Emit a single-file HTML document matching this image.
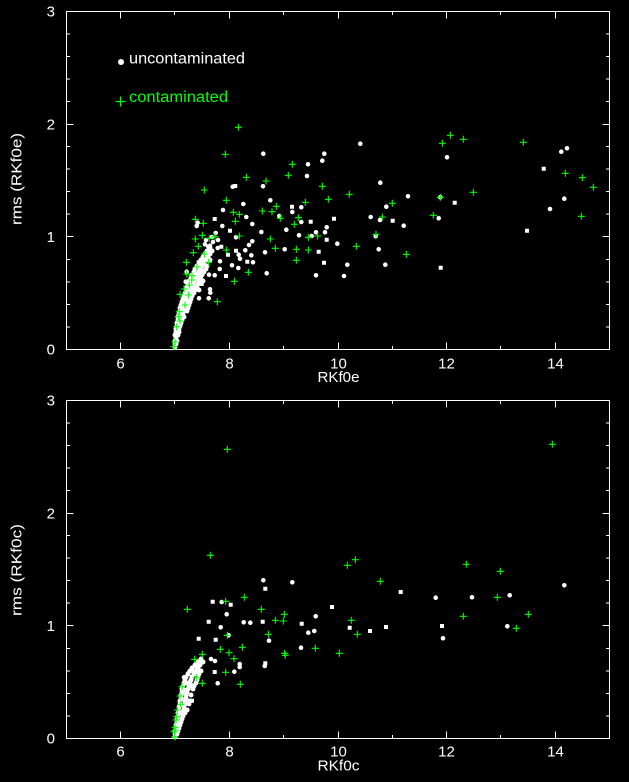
<!DOCTYPE html>
<html><head><meta charset="utf-8"><style>
html,body{margin:0;padding:0;background:#000;}
svg{display:block;}
text{font-family:"Liberation Sans",sans-serif;}
</style></head><body>
<svg xmlns="http://www.w3.org/2000/svg" width="629" height="782" viewBox="0 0 629 782">
<rect width="629" height="782" fill="#000"/>
<g fill="none" stroke="#fff" stroke-width="1">
<rect x="66.5" y="11.5" width="543" height="338"/>
<rect x="66.5" y="400.5" width="543" height="338"/>
<!-- top panel x ticks -->
<path d="M120.5 349.5v-7M229.5 349.5v-7M338.5 349.5v-7M446.5 349.5v-7M555.5 349.5v-7M174.5 349.5v-3.5M283.5 349.5v-3.5M392.5 349.5v-3.5M500.5 349.5v-3.5
M120.5 11.5v7M229.5 11.5v7M338.5 11.5v7M446.5 11.5v7M555.5 11.5v7M174.5 11.5v3.5M283.5 11.5v3.5M392.5 11.5v3.5M500.5 11.5v3.5"/>
<!-- top panel y ticks -->
<path d="M66.5 236.5h7M66.5 124.5h7M66.5 327h3.5M66.5 304.5h3.5M66.5 282h3.5M66.5 259.5h3.5M66.5 214h3.5M66.5 191.5h3.5M66.5 169h3.5M66.5 146.5h3.5M66.5 101.5h3.5M66.5 79h3.5M66.5 56.5h3.5M66.5 34h3.5
M609.5 236.5h-7M609.5 124.5h-7M609.5 327h-3.5M609.5 304.5h-3.5M609.5 282h-3.5M609.5 259.5h-3.5M609.5 214h-3.5M609.5 191.5h-3.5M609.5 169h-3.5M609.5 146.5h-3.5M609.5 101.5h-3.5M609.5 79h-3.5M609.5 56.5h-3.5M609.5 34h-3.5"/>
<!-- bottom panel x ticks -->
<path d="M120.5 738.5v-7M229.5 738.5v-7M338.5 738.5v-7M446.5 738.5v-7M555.5 738.5v-7M174.5 738.5v-3.5M283.5 738.5v-3.5M392.5 738.5v-3.5M500.5 738.5v-3.5
M120.5 400.5v7M229.5 400.5v7M338.5 400.5v7M446.5 400.5v7M555.5 400.5v7M174.5 400.5v3.5M283.5 400.5v3.5M392.5 400.5v3.5M500.5 400.5v3.5"/>
<!-- bottom panel y ticks -->
<path d="M66.5 625.5h7M66.5 513.5h7M66.5 716h3.5M66.5 693.5h3.5M66.5 671h3.5M66.5 648.5h3.5M66.5 603h3.5M66.5 580.5h3.5M66.5 558h3.5M66.5 535.5h3.5M66.5 490.5h3.5M66.5 468h3.5M66.5 445.5h3.5M66.5 423h3.5
M609.5 625.5h-7M609.5 513.5h-7M609.5 716h-3.5M609.5 693.5h-3.5M609.5 671h-3.5M609.5 648.5h-3.5M609.5 603h-3.5M609.5 580.5h-3.5M609.5 558h-3.5M609.5 535.5h-3.5M609.5 490.5h-3.5M609.5 468h-3.5M609.5 445.5h-3.5M609.5 423h-3.5"/>
</g>

<!-- tick labels -->
<g fill="#fff" font-size="15" text-anchor="end">
<text x="55" y="354.7">0</text><text x="55" y="242">1</text><text x="55" y="129.4">2</text><text x="55" y="16.7">3</text>
<text x="55" y="743.7">0</text><text x="55" y="631">1</text><text x="55" y="518.4">2</text><text x="55" y="405.7">3</text>
</g>
<g fill="#fff" font-size="15" text-anchor="middle">
<text x="120.5" y="368.7">6</text><text x="229.5" y="368.7">8</text><text x="338.5" y="368.7">10</text><text x="446.5" y="368.7">12</text><text x="555.5" y="368.7">14</text>
<text x="120.5" y="756.7">6</text><text x="229.5" y="756.7">8</text><text x="338.5" y="756.7">10</text><text x="446.5" y="756.7">12</text><text x="555.5" y="756.7">14</text>
</g>
<g fill="#fff" font-size="15">
<text x="317.5" y="382" textLength="42" lengthAdjust="spacingAndGlyphs">RKf0e</text>
<text x="317.5" y="770.7" textLength="42" lengthAdjust="spacingAndGlyphs">RKf0c</text>
<text transform="translate(21.7,179) rotate(-90)" text-anchor="middle" textLength="92" lengthAdjust="spacingAndGlyphs">rms (RKf0e)</text>
<text transform="translate(21.7,570) rotate(-90)" text-anchor="middle" textLength="92" lengthAdjust="spacingAndGlyphs">rms (RKf0c)</text>
</g>

<!-- legend -->
<path d="M121 62h0" stroke="#fff" stroke-width="6" stroke-linecap="round"/>
<text x="129" y="63.3" fill="#fff" font-size="15.5" textLength="116" lengthAdjust="spacingAndGlyphs">uncontaminated</text>
<path d="M115.5 101.5h10M120.5 96.5v10" stroke="#0f0" stroke-width="1.2" fill="none"/>
<text x="129" y="102" fill="#0f0" font-size="15.5" textLength="99" lengthAdjust="spacingAndGlyphs">contaminated</text>

<!-- TOP PANEL: white round dots -->
<path stroke="#fff" stroke-width="4.6" stroke-linecap="round" fill="none" d="
M263.3 153.7h0M308 164.3h0M307 176h0M232.7 186.7h0M263 186.3h0M270.3 200.3h0M243.3 204h0M223 210h0M246.3 217h0M292.3 212h0M301.3 207.3h0M279.3 216h0M301.3 222h0M252.3 224h0M197.7 222.7h0M196.7 226h0M222.3 226h0M286.3 229.7h0M261.3 232h0M215.7 233h0M299 235.3h0M236 237.3h0M252.3 241.3h0M249 245h0M205 244.3h0M210 245.7h0M217.7 248h0M245.3 250.3h0M265 252.3h0M284.7 249.3h0M238.7 254.7h0M251.3 255.3h0M240 258.7h0M220 261.3h0M253 262.3h0M232 265.3h0M238.3 268h0M219.7 269h0M266.7 273.3h0M214.7 275.3h0M209 274.7h0M210 289.3h0M210.3 292.7h0M208.7 298.3h0M199 298.3h0M202.3 270.7h0M201 278.7h0M195 286.7h0M193.3 292.7h0M190 282.3h0M186.7 271.7h0M185.7 281.7h0M212 237h0M218 240h0M206 240h0M213 242h0M208.3 246.7h0
M360.3 143.7h0M324.3 153.7h0M322.3 160.7h0M447 157.3h0M561.3 151.7h0M567 148.3h0M380.3 182.7h0M408 196.3h0M386.3 206.7h0M370.7 217h0M380 220h0M403.7 225.7h0M438.7 218.3h0M564.3 198.7h0M550 209h0M326.7 227.3h0M325 232.3h0M316 232.3h0M311.7 236h0M337.3 243.7h0M375.7 236.3h0M378.7 249.3h0M347.3 264.7h0M385.3 264.7h0M316 275.3h0M344 276h0M440.3 197.3h0
"/>
<!-- TOP PANEL: spine -->
<path stroke="#fff" stroke-width="5" stroke-linecap="round" fill="none" d="
M175 347h0M175 344h0M176 344h0M175 341h0M177 341h0M176 338h0M175 335h0M178 335h0M176 332h0M179 332h0M176 329h0M179 329h0M177 326h0M180 326h0M177 323h0M181 323h0M178 320h0M182 320h0M178 317h0M181 317h0M184 317h0M179 314h0M183 314h0M180 311h0M184 311h0M187 311h0M180 308h0M184 308h0M188 308h0M181 305h0M185 305h0M189 305h0M182 302h0M186 302h0M190 302h0M183 299h0M187 299h0M191 299h0M184 296h0M188 296h0M192 296h0M185 293h0M189 293h0M194 293h0M186 290h0M190 290h0M195 290h0M199 290h0M187 287h0M192 287h0M197 287h0M188 284h0M193 284h0M198 284h0M189 281h0M194 281h0M199 281h0M203 281h0M191 278h0M196 278h0M200 278h0M192 275h0M197 275h0M202 275h0M194 272h0M199 272h0M204 272h0M195 269h0M200 269h0M206 269h0M197 266h0M202 266h0M207 266h0M199 263h0M204 263h0M201 260h0M206 260h0M210 260h0M203 257h0M208 257h0M205 254h0M210 254h0M207 251h0M212 251h0M210 248h0
"/>
<!-- TOP PANEL: white squares -->
<path stroke="#fff" stroke-width="4" stroke-linecap="square" fill="none" d="
M235.3 186h0M214.7 219h0M292 206.7h0M230 230.7h0M221.3 246.7h0M236 250.7h0M228 254.7h0M247.3 261.7h0M226 276h0M198.7 262.3h0M201.7 284h0M543.7 168.7h0M392.7 220.7h0M454.7 202.7h0M527 230.7h0M440.7 267.7h0M310.7 221.7h0M334 218.7h0M326.7 239.7h0M318.7 251.7h0M324 262.7h0
"/>
<!-- TOP PANEL: green crosses -->
<path stroke="#0f0" stroke-width="1.1" fill="none" d="
M238.3 127.3m-3.5 0h7m-3.5-3.5v7M225.3 154.3m-3.5 0h7m-3.5-3.5v7M204.3 190m-3.5 0h7m-3.5-3.5v7M246.3 177.3m-3.5 0h7m-3.5-3.5v7M266 181m-3.5 0h7m-3.5-3.5v7M292.3 164.3m-3.5 0h7m-3.5-3.5v7M288.3 175.3m-3.5 0h7m-3.5-3.5v7M226.3 200.3m-3.5 0h7m-3.5-3.5v7M233.3 212.3m-3.5 0h7m-3.5-3.5v7M239.3 214.3m-3.5 0h7m-3.5-3.5v7M235.3 221.3m-3.5 0h7m-3.5-3.5v7M262.3 211m-3.5 0h7m-3.5-3.5v7M272 211.7m-3.5 0h7m-3.5-3.5v7M276.3 206.3m-3.5 0h7m-3.5-3.5v7M280.3 218.3m-3.5 0h7m-3.5-3.5v7M305.3 202.3m-3.5 0h7m-3.5-3.5v7M298.3 217.7m-3.5 0h7m-3.5-3.5v7M294.3 224.3m-3.5 0h7m-3.5-3.5v7M195.3 219.3m-3.5 0h7m-3.5-3.5v7M203.3 223.3m-3.5 0h7m-3.5-3.5v7M195.3 239m-3.5 0h7m-3.5-3.5v7M202.3 235.3m-3.5 0h7m-3.5-3.5v7M198.3 246.3m-3.5 0h7m-3.5-3.5v7M193.3 252.7m-3.5 0h7m-3.5-3.5v7M204.3 254m-3.5 0h7m-3.5-3.5v7M209.3 238.3m-3.5 0h7m-3.5-3.5v7M215 236.7m-3.5 0h7m-3.5-3.5v7M226.3 250m-3.5 0h7m-3.5-3.5v7M239.3 236m-3.5 0h7m-3.5-3.5v7M270.3 239m-3.5 0h7m-3.5-3.5v7M275.3 248.3m-3.5 0h7m-3.5-3.5v7M296.3 249.3m-3.5 0h7m-3.5-3.5v7M308.3 237.3m-3.5 0h7m-3.5-3.5v7M308.3 250m-3.5 0h7m-3.5-3.5v7M296.3 260.3m-3.5 0h7m-3.5-3.5v7M248.3 272.3m-3.5 0h7m-3.5-3.5v7M234.3 281.3m-3.5 0h7m-3.5-3.5v7M217.3 301.7m-3.5 0h7m-3.5-3.5v7M186.3 262.3m-3.5 0h7m-3.5-3.5v7M208.7 262.3m-3.5 0h7m-3.5-3.5v7M197 267m-3.5 0h7m-3.5-3.5v7M186.7 274m-3.5 0h7m-3.5-3.5v7M192 275.7m-3.5 0h7m-3.5-3.5v7M191.7 280m-3.5 0h7m-3.5-3.5v7M189.3 285m-3.5 0h7m-3.5-3.5v7M184 289m-3.5 0h7m-3.5-3.5v7M180 294.3m-3.5 0h7m-3.5-3.5v7M188.3 295m-3.5 0h7m-3.5-3.5v7M185 305m-3.5 0h7m-3.5-3.5v7M179.3 311.7m-3.5 0h7m-3.5-3.5v7M178.3 316.7m-3.5 0h7m-3.5-3.5v7M180 321m-3.5 0h7m-3.5-3.5v7M176.7 326.7m-3.5 0h7m-3.5-3.5v7M175 341.7m-3.5 0h7m-3.5-3.5v7M174 346.7m-3.5 0h7m-3.5-3.5v7
M450.3 135.3m-3.5 0h7m-3.5-3.5v7M442.3 143.3m-3.5 0h7m-3.5-3.5v7M463.3 139.3m-3.5 0h7m-3.5-3.5v7M523.3 142.3m-3.5 0h7m-3.5-3.5v7M565.3 173.3m-3.5 0h7m-3.5-3.5v7M582.3 177.7m-3.5 0h7m-3.5-3.5v7M593.3 187.3m-3.5 0h7m-3.5-3.5v7M581.3 216.3m-3.5 0h7m-3.5-3.5v7M473.3 192.3m-3.5 0h7m-3.5-3.5v7M440.3 197.3m-3.5 0h7m-3.5-3.5v7M433.3 215.3m-3.5 0h7m-3.5-3.5v7M406.3 254.3m-3.5 0h7m-3.5-3.5v7M356.3 246.3m-3.5 0h7m-3.5-3.5v7M376 234.3m-3.5 0h7m-3.5-3.5v7M382.3 217m-3.5 0h7m-3.5-3.5v7M392.3 203.3m-3.5 0h7m-3.5-3.5v7M349.3 194.3m-3.5 0h7m-3.5-3.5v7M328.3 199.3m-3.5 0h7m-3.5-3.5v7M322.3 186.3m-3.5 0h7m-3.5-3.5v7M317.7 236m-3.5 0h7m-3.5-3.5v7
"/>

<!-- BOTTOM PANEL: white round dots -->
<path stroke="#fff" stroke-width="4.6" stroke-linecap="round" fill="none" d="
M263.3 580.3h0M292.3 582.3h0M221.7 602h0M226.7 614.3h0M220.7 627.3h0M243.7 622.3h0M250.3 622.7h0M315.7 616.3h0M228.7 635.3h0M269 640.7h0M308.3 632.7h0M314.3 631h0M301 647.7h0M211 659h0M215 661h0M239.7 664h0M239.7 667h0M264.7 666h0M234.3 671.7h0M217.7 683.3h0M196.7 667.3h0M193.3 671.3h0M188.3 673.3h0M184 677.3h0M190 681.7h0M186.7 683.3h0M192.7 685.7h0M187.3 710h0M183.3 713.3h0M435.7 597.7h0M472 597.3h0M509.7 595.3h0M564.3 585.3h0M443 638.3h0M507.3 626.3h0
"/>
<!-- BOTTOM PANEL: spine -->
<path stroke="#fff" stroke-width="5" stroke-linecap="round" fill="none" d="
M175 737h0M175 734h0M177 734h0M175 731h0M178 731h0M176 728h0M179 728h0M176 725h0M180 725h0M177 722h0M181 722h0M177 719h0M182 719h0M178 716h0M183 716h0M178 713h0M182 713h0M185 713h0M179 710h0M184 710h0M187 710h0M179 707h0M184 707h0M180 704h0M185 704h0M189 704h0M180 701h0M185 701h0M190 701h0M181 698h0M186 698h0M181 695h0M186 695h0M191 695h0M182 692h0M187 692h0M182 689h0M188 689h0M193 689h0M183 686h0M189 686h0M194 686h0M184 683h0M190 683h0M196 683h0M185 680h0M191 680h0M197 680h0M186 677h0M192 677h0M198 677h0M188 674h0M194 674h0M199 674h0M190 671h0M196 671h0M201 671h0M192 668h0M198 668h0M195 665h0M200 665h0M198 662h0M203 662h0M201 659h0
"/>
<!-- BOTTOM PANEL: white squares -->
<path stroke="#fff" stroke-width="4" stroke-linecap="square" fill="none" d="
M265.3 588.7h0M212.7 601.7h0M230.7 604.7h0M208.7 621.7h0M262.7 621.7h0M301.7 623.7h0M198.7 638.7h0M215.7 639.7h0M202.7 662h0M265.3 663.3h0M214.7 672h0M198.7 670.7h0M186 690h0M189.3 700.7h0M192 700.7h0M400.7 592h0M332 607h0M442 626h0M349.7 627.7h0M370 631h0M386 627h0
"/>
<!-- BOTTOM PANEL: green crosses -->
<path stroke="#0f0" stroke-width="1.1" fill="none" d="
M227.3 449.3m-3.5 0h7m-3.5-3.5v7M210.3 555.3m-3.5 0h7m-3.5-3.5v7M552.3 444.3m-3.5 0h7m-3.5-3.5v7M347.3 565.3m-3.5 0h7m-3.5-3.5v7M355.3 559.7m-3.5 0h7m-3.5-3.5v7M380.3 581.3m-3.5 0h7m-3.5-3.5v7M466.3 564.3m-3.5 0h7m-3.5-3.5v7M500.3 571.3m-3.5 0h7m-3.5-3.5v7M497.3 597.3m-3.5 0h7m-3.5-3.5v7M463.3 616.3m-3.5 0h7m-3.5-3.5v7M528.3 614.3m-3.5 0h7m-3.5-3.5v7M516.3 628.3m-3.5 0h7m-3.5-3.5v7M351.3 620.3m-3.5 0h7m-3.5-3.5v7M357.3 634.3m-3.5 0h7m-3.5-3.5v7M339.3 653.3m-3.5 0h7m-3.5-3.5v7
M187.3 609.3m-3.5 0h7m-3.5-3.5v7M225.7 601.3m-3.5 0h7m-3.5-3.5v7M244.3 597.3m-3.5 0h7m-3.5-3.5v7M261.3 609.3m-3.5 0h7m-3.5-3.5v7M284.3 614.3m-3.5 0h7m-3.5-3.5v7M275.3 620.3m-3.5 0h7m-3.5-3.5v7M283.3 621m-3.5 0h7m-3.5-3.5v7M268.3 634.3m-3.5 0h7m-3.5-3.5v7M227.3 635.3m-3.5 0h7m-3.5-3.5v7M242.3 647.3m-3.5 0h7m-3.5-3.5v7M220.3 649.3m-3.5 0h7m-3.5-3.5v7M229 652.7m-3.5 0h7m-3.5-3.5v7M202.3 654.3m-3.5 0h7m-3.5-3.5v7M234 658.7m-3.5 0h7m-3.5-3.5v7M194.7 659.3m-3.5 0h7m-3.5-3.5v7M284.7 653.3m-3.5 0h7m-3.5-3.5v7M285.3 655.3m-3.5 0h7m-3.5-3.5v7M315.3 648.3m-3.5 0h7m-3.5-3.5v7M225.7 672.3m-3.5 0h7m-3.5-3.5v7M196.3 677.7m-3.5 0h7m-3.5-3.5v7M202.3 683.3m-3.5 0h7m-3.5-3.5v7M240.3 684.3m-3.5 0h7m-3.5-3.5v7M182 686.7m-3.5 0h7m-3.5-3.5v7M180 696m-3.5 0h7m-3.5-3.5v7M180.7 704.3m-3.5 0h7m-3.5-3.5v7M177.3 710m-3.5 0h7m-3.5-3.5v7M176.7 716.7m-3.5 0h7m-3.5-3.5v7M176 720m-3.5 0h7m-3.5-3.5v7M175 727.3m-3.5 0h7m-3.5-3.5v7M175.3 730m-3.5 0h7m-3.5-3.5v7M174 731.7m-3.5 0h7m-3.5-3.5v7M174.7 736.7m-3.5 0h7m-3.5-3.5v7
"/>
</svg>
</body></html>
